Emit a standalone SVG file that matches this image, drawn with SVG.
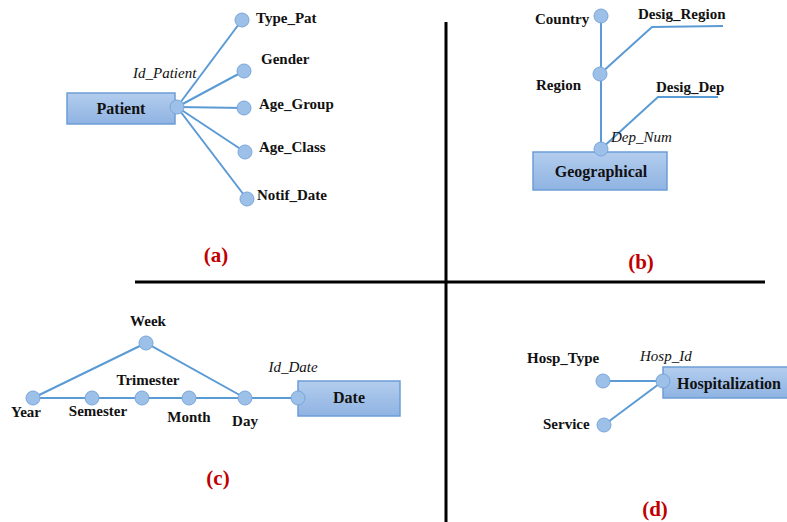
<svg xmlns="http://www.w3.org/2000/svg" width="787" height="522" viewBox="0 0 787 522">
<defs>
<linearGradient id="g" x1="0" y1="0" x2="0" y2="1"><stop offset="0" stop-color="#b3cdee"/><stop offset="1" stop-color="#8fb3e2"/></linearGradient>
<style>
.l{stroke:#5b9bd5;stroke-width:2;fill:none}
.c{fill:#9dc0e8;stroke:#7aa6da;stroke-width:1}
.r{fill:url(#g);stroke:#6c9dd6;stroke-width:1.5}
.t{font-family:"Liberation Serif",serif;font-weight:bold;font-size:15px;fill:#111}
.i{font-family:"Liberation Serif",serif;font-style:italic;font-size:15px;fill:#111}
.e{font-family:"Liberation Serif",serif;font-weight:bold;font-size:16px;fill:#111}
.p{font-family:"Liberation Serif",serif;font-weight:bold;font-size:21px;fill:#c00000}
.d{stroke:#000;stroke-width:3}
</style>
</defs>
<rect width="787" height="522" fill="#fff"/>
<g id="dividers">
<line class="d" x1="446" y1="22" x2="446" y2="522"/>
<line class="d" x1="135" y1="282" x2="765" y2="282"/>
</g>
<g id="connectors">
<line class="l" x1="177" y1="107" x2="242" y2="20"/>
<line class="l" x1="177" y1="107" x2="244" y2="71"/>
<line class="l" x1="177" y1="107" x2="244" y2="108"/>
<line class="l" x1="177" y1="107" x2="245" y2="152"/>
<line class="l" x1="177" y1="107" x2="247" y2="199"/>
<line class="l" x1="601" y1="16" x2="601" y2="149"/>
<polyline class="l" points="600,74 652,27 723,26"/>
<polyline class="l" points="601,149 658,97 718,97"/>
<line class="l" x1="33" y1="398" x2="298" y2="398"/>
<polyline class="l" points="33,398 146,343 245,398"/>
<line class="l" x1="603" y1="381" x2="663" y2="381"/>
<line class="l" x1="663" y1="381" x2="604" y2="425"/>
</g>
<g id="patient">
<rect class="r" x="67" y="93" width="108" height="31"/>
<text class="e" x="121" y="114" text-anchor="middle">Patient</text>
<circle class="c" cx="177" cy="107" r="7"/>
<text class="i" x="133" y="78">Id_Patient</text>
</g>
<g id="type_pat"><circle class="c" cx="242" cy="20" r="7"/><text class="t" x="256" y="23">Type_Pat</text></g>
<g id="gender"><circle class="c" cx="244" cy="71" r="7"/><text class="t" x="261" y="64">Gender</text></g>
<g id="age_group"><circle class="c" cx="244" cy="108" r="7"/><text class="t" x="259" y="109">Age_Group</text></g>
<g id="age_class"><circle class="c" cx="245" cy="152" r="7"/><text class="t" x="259" y="152">Age_Class</text></g>
<g id="notif_date"><circle class="c" cx="247" cy="199" r="7"/><text class="t" x="257" y="200">Notif_Date</text></g>
<text class="p" x="216" y="262" text-anchor="middle">(a)</text>

<g id="geographical">
<rect class="r" x="533" y="152" width="134" height="38"/>
<text class="e" x="601" y="177" text-anchor="middle">Geographical</text>
<circle class="c" cx="601" cy="149" r="7"/>
<text class="i" x="611" y="142">Dep_Num</text>
</g>
<g id="country"><circle class="c" cx="601" cy="16" r="7"/><text class="t" x="535" y="24">Country</text></g>
<g id="region"><circle class="c" cx="600" cy="74" r="7"/><text class="t" x="536" y="90">Region</text></g>
<g id="desig_region"><text class="t" x="638" y="19">Desig_Region</text></g>
<g id="desig_dep"><text class="t" x="656" y="92">Desig_Dep</text></g>
<text class="p" x="641" y="269" text-anchor="middle">(b)</text>

<g id="date">
<rect class="r" x="298" y="381" width="102" height="35"/>
<text class="e" x="349" y="403" text-anchor="middle">Date</text>
<circle class="c" cx="298" cy="398" r="7"/>
<text class="i" x="293" y="372" text-anchor="middle">Id_Date</text>
</g>
<g id="week"><circle class="c" cx="146" cy="343" r="7"/><text class="t" x="148" y="326" text-anchor="middle">Week</text></g>
<g id="year"><circle class="c" cx="33" cy="398" r="7"/><text class="t" x="26" y="417" text-anchor="middle">Year</text></g>
<g id="semester"><circle class="c" cx="92" cy="398" r="7"/><text class="t" x="98" y="416" text-anchor="middle">Semester</text></g>
<g id="trimester"><circle class="c" cx="142" cy="398" r="7"/><text class="t" x="148" y="385" text-anchor="middle">Trimester</text></g>
<g id="month"><circle class="c" cx="189" cy="398" r="7"/><text class="t" x="189" y="422" text-anchor="middle">Month</text></g>
<g id="day"><circle class="c" cx="245" cy="398" r="7"/><text class="t" x="245" y="426" text-anchor="middle">Day</text></g>
<text class="p" x="218" y="485" text-anchor="middle">(c)</text>

<g id="hospitalization">
<rect class="r" x="663" y="367" width="130" height="31"/>
<text class="e" x="677" y="389">Hospitalization</text>
<circle class="c" cx="663" cy="381" r="7"/>
<text class="i" x="640" y="361">Hosp_Id</text>
</g>
<g id="hosp_type"><circle class="c" cx="603" cy="381" r="7"/><text class="t" x="527" y="363">Hosp_Type</text></g>
<g id="service"><circle class="c" cx="604" cy="425" r="7"/><text class="t" x="543" y="429">Service</text></g>
<text class="p" x="655" y="516" text-anchor="middle">(d)</text>
</svg>
